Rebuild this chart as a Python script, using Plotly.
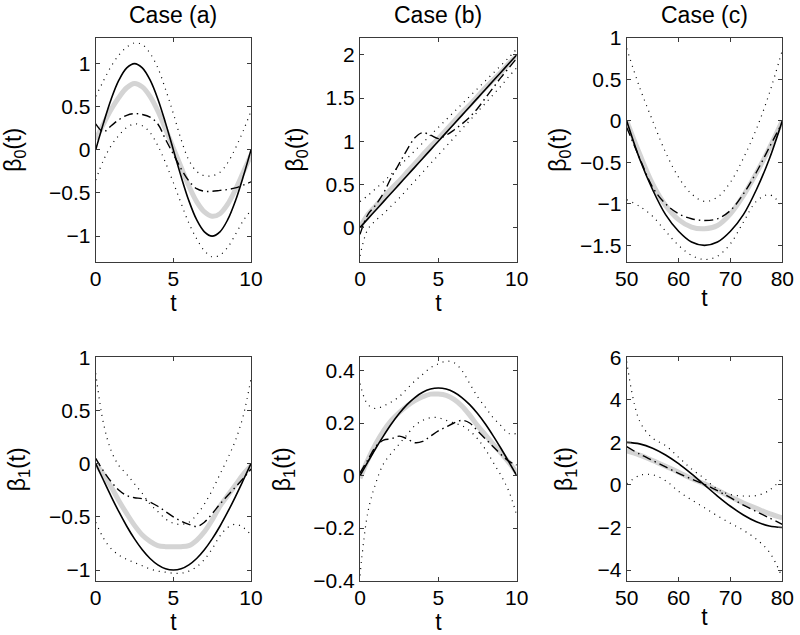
import plotly.graph_objects as go

# ---------------- data ----------------
t_ab = [0, 0.5, 1, 1.5, 2, 2.5, 3, 3.5, 4, 4.5, 5, 5.5, 6, 6.5, 7, 7.5, 8, 8.5, 9, 9.5, 10]
t_c = [50, 52.5, 55, 57.5, 60, 62.5, 65, 67.5, 70, 72.5, 75, 77.5, 80]

# Case (a), beta0
a0_true = [0, 0.31, 0.59, 0.81, 0.95, 1.0, 0.95, 0.81, 0.59, 0.31, 0, -0.31, -0.59, -0.81, -0.95, -1.0, -0.95, -0.81, -0.59, -0.31, 0]
a0_mean = [0.12, 0.3, 0.47, 0.61, 0.72, 0.77, 0.73, 0.62, 0.45, 0.24, 0.02, -0.2, -0.42, -0.6, -0.72, -0.77, -0.74, -0.63, -0.46, -0.26, -0.06]
a0_alt = [0.3, 0.21, 0.28, 0.35, 0.4, 0.42, 0.41, 0.38, 0.3, 0.12, -0.05, -0.22, -0.36, -0.45, -0.48, -0.48, -0.47, -0.46, -0.44, -0.41, -0.37]
a0_upper = [0.62, 0.8, 0.97, 1.1, 1.19, 1.24, 1.22, 1.12, 0.95, 0.7, 0.42, 0.12, -0.12, -0.25, -0.3, -0.3, -0.26, -0.15, 0.02, 0.22, 0.45]
a0_lower = [-0.35, -0.12, 0.05, 0.17, 0.26, 0.3, 0.28, 0.2, 0.05, -0.15, -0.38, -0.62, -0.85, -1.03, -1.17, -1.24, -1.22, -1.13, -0.98, -0.82, -0.7]

# Case (b), beta0
b0_true = [0, 0.1, 0.2, 0.3, 0.4, 0.5, 0.6, 0.7, 0.8, 0.9, 1.0, 1.1, 1.2, 1.3, 1.4, 1.5, 1.6, 1.7, 1.8, 1.9, 2.0]
b0_mean = [0.0, 0.15, 0.25, 0.35, 0.45, 0.54, 0.64, 0.74, 0.84, 0.94, 1.03, 1.13, 1.23, 1.33, 1.42, 1.52, 1.62, 1.71, 1.8, 1.9, 1.99]
b0_alt = [-0.08, 0.15, 0.26, 0.4, 0.58, 0.74, 0.9, 1.04, 1.1, 1.07, 1.03, 1.07, 1.13, 1.2, 1.28, 1.38, 1.5, 1.62, 1.74, 1.85, 1.96]
b0_upper = [0.3, 0.37, 0.45, 0.53, 0.62, 0.71, 0.8, 0.89, 0.98, 1.07, 1.16, 1.25, 1.34, 1.43, 1.52, 1.61, 1.7, 1.79, 1.88, 1.97, 2.07]
b0_lower = [-0.33, -0.02, 0.08, 0.16, 0.25, 0.34, 0.44, 0.54, 0.64, 0.74, 0.84, 0.94, 1.04, 1.14, 1.24, 1.34, 1.44, 1.54, 1.64, 1.75, 1.85]

# Case (c), beta0
c0_true = [0, -0.46, -0.83, -1.13, -1.33, -1.46, -1.5, -1.46, -1.33, -1.13, -0.83, -0.46, 0]
c0_mean = [0.0, -0.4, -0.76, -1.02, -1.19, -1.28, -1.3, -1.26, -1.12, -0.9, -0.63, -0.33, 0.0]
c0_alt = [-0.08, -0.45, -0.8, -1.0, -1.12, -1.18, -1.2, -1.18, -1.08, -0.88, -0.62, -0.32, -0.02]
c0_upper = [0.87, 0.4, 0.0, -0.38, -0.68, -0.88, -0.97, -0.92, -0.74, -0.45, -0.1, 0.33, 0.85]
c0_lower = [-0.95, -1.03, -1.15, -1.33, -1.5, -1.62, -1.67, -1.63, -1.48, -1.22, -0.97, -0.89, -1.03]

# Case (a), beta1
a1_true = [0, -0.156, -0.309, -0.454, -0.588, -0.707, -0.809, -0.891, -0.951, -0.988, -1.0, -0.988, -0.951, -0.891, -0.809, -0.707, -0.588, -0.454, -0.309, -0.156, 0]
a1_mean = [0.0, -0.1, -0.22, -0.35, -0.47, -0.58, -0.67, -0.73, -0.77, -0.78, -0.78, -0.78, -0.77, -0.72, -0.64, -0.53, -0.4, -0.3, -0.2, -0.1, -0.02]
a1_alt = [0.05, -0.07, -0.17, -0.25, -0.3, -0.32, -0.33, -0.36, -0.4, -0.45, -0.5, -0.54, -0.57, -0.59, -0.55, -0.47, -0.38, -0.3, -0.22, -0.14, -0.05]
a1_upper = [0.85, 0.38, 0.12, -0.02, -0.1, -0.19, -0.28, -0.38, -0.45, -0.52, -0.56, -0.57, -0.55, -0.48, -0.38, -0.25, -0.1, 0.05, 0.22, 0.45, 0.8]
a1_lower = [-0.55, -0.7, -0.8, -0.86, -0.9, -0.93, -0.96, -0.99, -1.01, -1.02, -1.03, -1.03, -1.01, -0.97, -0.9, -0.8, -0.68, -0.6, -0.57, -0.6, -0.67]

# Case (b), beta1
b1_true = [0, 0.052, 0.103, 0.151, 0.196, 0.236, 0.27, 0.297, 0.317, 0.329, 0.333, 0.329, 0.317, 0.297, 0.27, 0.236, 0.196, 0.151, 0.103, 0.052, 0]
b1_mean = [-0.01, 0.06, 0.12, 0.17, 0.21, 0.24, 0.265, 0.285, 0.3, 0.31, 0.31, 0.305, 0.29, 0.265, 0.23, 0.19, 0.155, 0.12, 0.085, 0.05, 0.01]
b1_alt = [0.01, 0.06, 0.11, 0.135, 0.14, 0.15, 0.14, 0.125, 0.13, 0.15, 0.17, 0.185, 0.2, 0.21, 0.2, 0.17, 0.14, 0.11, 0.08, 0.055, 0.04]
b1_upper = [0.35, 0.27, 0.255, 0.265, 0.28, 0.3, 0.33, 0.36, 0.385, 0.41, 0.425, 0.435, 0.43, 0.4, 0.35, 0.3, 0.26, 0.22, 0.19, 0.16, 0.16]
b1_lower = [-0.38, -0.14, -0.03, 0.045, 0.085, 0.12, 0.155, 0.19, 0.21, 0.22, 0.22, 0.21, 0.2, 0.19, 0.17, 0.14, 0.1, 0.05, 0.0, -0.06, -0.15]

# Case (c), beta1
c1_true = [2, 1.93, 1.73, 1.41, 1.0, 0.52, 0, -0.52, -1.0, -1.41, -1.73, -1.93, -2.0]
c1_mean = [1.6, 1.4, 1.15, 0.88, 0.6, 0.3, 0.05, -0.25, -0.55, -0.85, -1.1, -1.35, -1.55]
c1_alt = [1.8, 1.45, 1.15, 0.85, 0.55, 0.28, 0.03, -0.27, -0.6, -0.95, -1.25, -1.55, -1.85]
c1_upper = [5.8, 3.0, 2.2, 1.85, 1.3, 0.75, 0.3, -0.2, -0.45, -0.52, -0.5, -0.25, 0.33]
c1_lower = [0.05, 0.45, 0.48, 0.2, -0.3, -0.7, -1.07, -1.45, -1.8, -2.13, -2.55, -3.15, -4.35]

titles = ["Case (a)", "Case (b)", "Case (c)"]
ylabels = ["β<sub>0</sub>(t)", "β<sub>1</sub>(t)"]

x_ranges = [[0, 10], [0, 10], [50, 80]]
x_ticks = [[0, 5, 10], [0, 5, 10], [50, 60, 70, 80]]
y_ranges = [[[-1.3, 1.3], [-0.4, 2.2], [-1.7, 1.0]],
            [[-1.1, 1.0], [-0.4, 0.45], [-4.5, 6.0]]]
y_ticks = [[[-1, -0.5, 0, 0.5, 1], [0, 0.5, 1, 1.5, 2], [-1.5, -1, -0.5, 0, 0.5, 1]],
           [[-1, -0.5, 0, 0.5, 1], [-0.4, -0.2, 0, 0.2, 0.4], [-4, -2, 0, 2, 4, 6]]]

panels = [
    [(t_ab, a0_true, a0_mean, a0_alt, a0_upper, a0_lower),
     (t_ab, b0_true, b0_mean, b0_alt, b0_upper, b0_lower),
     (t_c, c0_true, c0_mean, c0_alt, c0_upper, c0_lower)],
    [(t_ab, a1_true, a1_mean, a1_alt, a1_upper, a1_lower),
     (t_ab, b1_true, b1_mean, b1_alt, b1_upper, b1_lower),
     (t_c, c1_true, c1_mean, c1_alt, c1_upper, c1_lower)],
]

# ---------------- layout geometry (page pixels) ----------------
W, H = 800, 635
col_px = [(95.7, 251.0), (360.0, 516.7), (626.7, 782.3)]
row_px = [(37.7, 262.0), (357.3, 580.7)]
ylabel_x = [[15, 296.7, 560], [18.3, 283.3, 565]]
title_y = 15
FS_TICK = 21
FS_LAB = 23

FONT = "Liberation Sans, Arial, Helvetica, sans-serif"
FRAME = "#3a3a3a"


def fx(px):
    return px / W


def fy(py):
    return 1 - py / H


fig = go.Figure()
layout = dict(
    template="none",
    width=W, height=H,
    margin=dict(l=0, r=0, t=0, b=0, pad=0),
    paper_bgcolor="white", plot_bgcolor="white",
    showlegend=False,
    hovermode=False,
    font=dict(family=FONT, size=FS_TICK, color="black"),
)
annotations = []

for r in range(2):
    for c in range(3):
        idx = r * 3 + c + 1
        xa = "x" if idx == 1 else f"x{idx}"
        ya = "y" if idx == 1 else f"y{idx}"
        t, tru, mean, alt, up, lo = panels[r][c]
        common = dict(x=t, xaxis=xa, yaxis=ya, mode="lines", hoverinfo="skip")
        fig.add_trace(go.Scatter(y=mean, line=dict(color="#d4d4d4", width=5, shape="spline"), **common))
        fig.add_trace(go.Scatter(y=tru, line=dict(color="black", width=1.6, shape="spline"), **common))
        fig.add_trace(go.Scatter(y=alt, line=dict(color="black", width=1.4, shape="spline",
                                                  dash="9px,4px,1.5px,4px"), **common))
        fig.add_trace(go.Scatter(y=up, line=dict(color="black", width=1.2, shape="spline",
                                                 dash="1px,5px"), **common))
        fig.add_trace(go.Scatter(y=lo, line=dict(color="black", width=1.2, shape="spline",
                                                 dash="1px,5px"), **common))

        x0, x1 = col_px[c]
        y0, y1 = row_px[r]
        axis_common = dict(
            automargin=False,
            showgrid=False, zeroline=False, showline=True, linecolor=FRAME, linewidth=1,
            mirror="ticks", ticks="inside", ticklen=4, tickcolor=FRAME, tickwidth=1,
            tickfont=dict(family=FONT, size=FS_TICK, color="black"),
        )
        layout["xaxis" if idx == 1 else f"xaxis{idx}"] = dict(
            domain=[fx(x0), fx(x1)], anchor=ya, range=x_ranges[c],
            tickvals=x_ticks[c], ticklabelstandoff=-2,
            title=dict(text="t", font=dict(family=FONT, size=FS_LAB), standoff=0),
            **axis_common)
        layout["yaxis" if idx == 1 else f"yaxis{idx}"] = dict(
            domain=[fy(y1), fy(y0)], anchor=xa, range=y_ranges[r][c],
            tickvals=y_ticks[r][c], ticklabelstandoff=0,
            **axis_common)
        annotations.append(dict(
            text=ylabels[r], xref="paper", yref="paper",
            x=fx(ylabel_x[r][c]), y=fy((y0 + y1) / 2),
            xanchor="center", yanchor="middle", textangle=-90, showarrow=False,
            font=dict(family=FONT, size=FS_LAB)))
        if r == 0:
            annotations.append(dict(
                text=titles[c], xref="paper", yref="paper",
                x=fx((x0 + x1) / 2), y=fy(title_y),
                xanchor="center", yanchor="middle", showarrow=False,
                font=dict(family=FONT, size=FS_LAB)))

layout["annotations"] = annotations
fig.update_layout(**layout)
# remove the browser's default 8px body margin so the figure sits at the page origin
fig.write_html("out.html", config={"displayModeBar": False, "staticPlot": True},
               post_script="document.body.style.margin='0px';")
